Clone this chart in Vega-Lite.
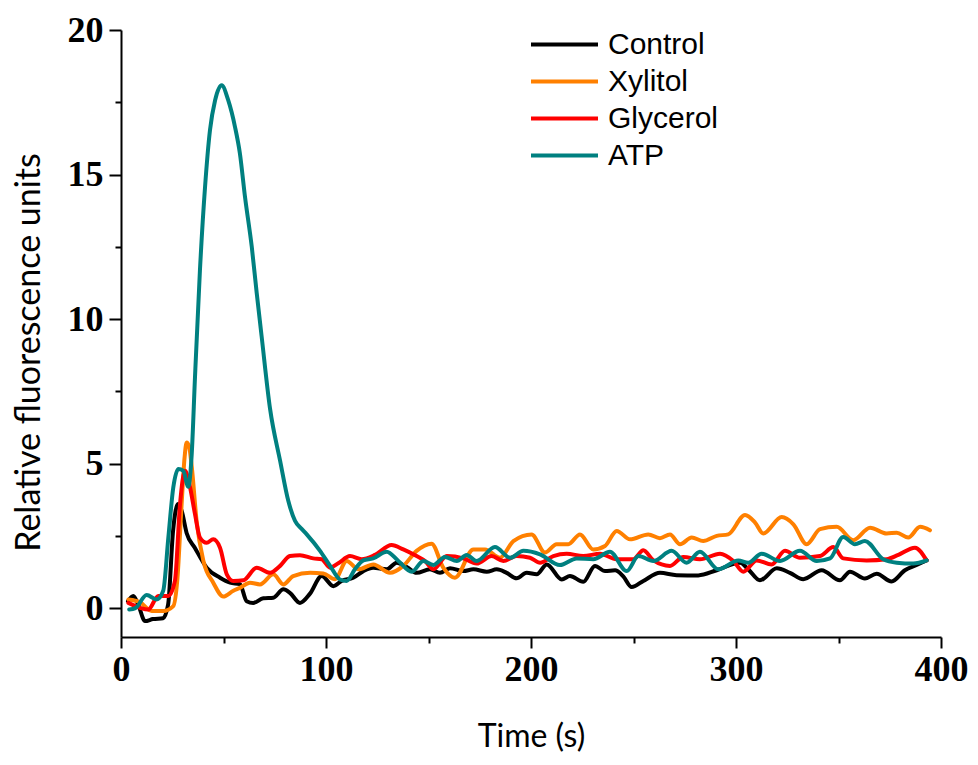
{
  "$schema": "https://vega.github.io/schema/vega-lite/v6.json",
  "width": 820,
  "height": 607,
  "autosize": {"type": "none"},
  "padding": {"left": 121, "top": 30, "right": 37, "bottom": 128},
  "background": "white",
  "config": {
    "view": {"stroke": null},
    "axis": {"grid": false, "domainColor": "black", "domainWidth": 2, "tickColor": "black", "tickWidth": 2, "labelColor": "black", "titleColor": "black"}
  },
  "datasets": {
    "raw": [
      {"s":"Control","t":3.4,"v":0.24},{"s":"Control","t":6,"v":0.42},{"s":"Control","t":8.5,"v":0.1},{"s":"Control","t":11.7,"v":-0.45},{"s":"Control","t":15.6,"v":-0.38},{"s":"Control","t":20.5,"v":-0.35},{"s":"Control","t":23,"v":0.13},{"s":"Control","t":25.4,"v":2.67},{"s":"Control","t":27.8,"v":3.6},{"s":"Control","t":29.6,"v":3.36},{"s":"Control","t":32,"v":2.6},{"s":"Control","t":36,"v":2.09},{"s":"Control","t":41.8,"v":1.4},{"s":"Control","t":48.3,"v":1.05},{"s":"Control","t":53.2,"v":0.88},{"s":"Control","t":58,"v":0.83},{"s":"Control","t":61.3,"v":0.24},{"s":"Control","t":64.5,"v":0.18},{"s":"Control","t":69.4,"v":0.34},{"s":"Control","t":74.3,"v":0.36},{"s":"Control","t":79.2,"v":0.65},{"s":"Control","t":82.4,"v":0.53},{"s":"Control","t":87.3,"v":0.18},{"s":"Control","t":92.2,"v":0.5},{"s":"Control","t":97.9,"v":1.11},{"s":"Control","t":103.6,"v":0.76},{"s":"Control","t":107.6,"v":0.94},{"s":"Control","t":113.3,"v":1.05},{"s":"Control","t":118.2,"v":1.28},{"s":"Control","t":123,"v":1.4},{"s":"Control","t":129.6,"v":1.34},{"s":"Control","t":134.5,"v":1.57},{"s":"Control","t":139.4,"v":1.42},{"s":"Control","t":144.2,"v":1.22},{"s":"Control","t":150.7,"v":1.34},{"s":"Control","t":155.6,"v":1.22},{"s":"Control","t":160.5,"v":1.38},{"s":"Control","t":167,"v":1.28},{"s":"Control","t":171.9,"v":1.34},{"s":"Control","t":178.4,"v":1.26},{"s":"Control","t":183.3,"v":1.34},{"s":"Control","t":188.1,"v":1.22},{"s":"Control","t":193,"v":1.03},{"s":"Control","t":197.9,"v":1.22},{"s":"Control","t":202.8,"v":1.17},{"s":"Control","t":207.7,"v":1.51},{"s":"Control","t":215,"v":0.99},{"s":"Control","t":219,"v":1.11},{"s":"Control","t":225.5,"v":0.91},{"s":"Control","t":231.2,"v":1.46},{"s":"Control","t":236.1,"v":1.28},{"s":"Control","t":241,"v":1.31},{"s":"Control","t":245,"v":1.1},{"s":"Control","t":249.1,"v":0.73},{"s":"Control","t":254.8,"v":0.94},{"s":"Control","t":262.9,"v":1.22},{"s":"Control","t":271,"v":1.14},{"s":"Control","t":281.6,"v":1.13},{"s":"Control","t":290.6,"v":1.31},{"s":"Control","t":302,"v":1.57},{"s":"Control","t":306,"v":1.34},{"s":"Control","t":311.7,"v":0.96},{"s":"Control","t":319.9,"v":1.38},{"s":"Control","t":326.3,"v":1.22},{"s":"Control","t":332.8,"v":1.0},{"s":"Control","t":341.8,"v":1.31},{"s":"Control","t":350.7,"v":0.96},{"s":"Control","t":355.6,"v":1.26},{"s":"Control","t":362.9,"v":1.02},{"s":"Control","t":368.6,"v":1.19},{"s":"Control","t":375.9,"v":0.92},{"s":"Control","t":382.4,"v":1.31},{"s":"Control","t":388.1,"v":1.49},{"s":"Control","t":393,"v":1.65},
      {"s":"Xylitol","t":3.6,"v":0.3},{"s":"Xylitol","t":9.3,"v":0.2},{"s":"Xylitol","t":15,"v":-0.1},{"s":"Xylitol","t":20.6,"v":-0.1},{"s":"Xylitol","t":25.5,"v":0.07},{"s":"Xylitol","t":27.5,"v":1.0},{"s":"Xylitol","t":29.5,"v":3.5},{"s":"Xylitol","t":31,"v":5.2},{"s":"Xylitol","t":32,"v":5.73},{"s":"Xylitol","t":33.2,"v":5.6},{"s":"Xylitol","t":34.5,"v":4.9},{"s":"Xylitol","t":36.9,"v":3.0},{"s":"Xylitol","t":40.2,"v":1.63},{"s":"Xylitol","t":45,"v":0.88},{"s":"Xylitol","t":49.9,"v":0.4},{"s":"Xylitol","t":54.8,"v":0.6},{"s":"Xylitol","t":58,"v":0.7},{"s":"Xylitol","t":62.9,"v":0.88},{"s":"Xylitol","t":67.8,"v":0.82},{"s":"Xylitol","t":74.3,"v":1.17},{"s":"Xylitol","t":79.2,"v":0.82},{"s":"Xylitol","t":84,"v":1.11},{"s":"Xylitol","t":92.2,"v":1.22},{"s":"Xylitol","t":98.7,"v":1.2},{"s":"Xylitol","t":104.4,"v":1.0},{"s":"Xylitol","t":110.1,"v":1.63},{"s":"Xylitol","t":115.8,"v":1.34},{"s":"Xylitol","t":123.1,"v":1.51},{"s":"Xylitol","t":131.2,"v":1.22},{"s":"Xylitol","t":137.7,"v":1.46},{"s":"Xylitol","t":144.2,"v":1.98},{"s":"Xylitol","t":151.5,"v":2.23},{"s":"Xylitol","t":157.2,"v":1.4},{"s":"Xylitol","t":162.9,"v":1.05},{"s":"Xylitol","t":171.9,"v":2.03},{"s":"Xylitol","t":177.6,"v":2.03},{"s":"Xylitol","t":184.9,"v":1.74},{"s":"Xylitol","t":191.4,"v":2.32},{"s":"Xylitol","t":200.3,"v":2.55},{"s":"Xylitol","t":206.8,"v":1.92},{"s":"Xylitol","t":212.5,"v":2.21},{"s":"Xylitol","t":218.2,"v":2.21},{"s":"Xylitol","t":223.9,"v":2.55},{"s":"Xylitol","t":230.4,"v":2.03},{"s":"Xylitol","t":236.1,"v":2.15},{"s":"Xylitol","t":241.8,"v":2.67},{"s":"Xylitol","t":248.3,"v":2.38},{"s":"Xylitol","t":257.2,"v":2.55},{"s":"Xylitol","t":262.9,"v":2.42},{"s":"Xylitol","t":267.8,"v":2.55},{"s":"Xylitol","t":272.7,"v":2.21},{"s":"Xylitol","t":278.4,"v":2.44},{"s":"Xylitol","t":284,"v":2.32},{"s":"Xylitol","t":290.6,"v":2.5},{"s":"Xylitol","t":296.2,"v":2.55},{"s":"Xylitol","t":304.4,"v":3.22},{"s":"Xylitol","t":309.3,"v":2.96},{"s":"Xylitol","t":313.3,"v":2.58},{"s":"Xylitol","t":322.3,"v":3.15},{"s":"Xylitol","t":328,"v":2.9},{"s":"Xylitol","t":334.5,"v":2.21},{"s":"Xylitol","t":341,"v":2.73},{"s":"Xylitol","t":349.1,"v":2.81},{"s":"Xylitol","t":357.2,"v":2.35},{"s":"Xylitol","t":365.4,"v":2.78},{"s":"Xylitol","t":373.5,"v":2.58},{"s":"Xylitol","t":378.4,"v":2.61},{"s":"Xylitol","t":384,"v":2.44},{"s":"Xylitol","t":389.8,"v":2.81},{"s":"Xylitol","t":394.6,"v":2.69},
      {"s":"Glycerol","t":3.6,"v":0.18},{"s":"Glycerol","t":9.3,"v":0.01},{"s":"Glycerol","t":13.3,"v":-0.05},{"s":"Glycerol","t":18.2,"v":0.42},{"s":"Glycerol","t":23.1,"v":0.42},{"s":"Glycerol","t":26.3,"v":0.94},{"s":"Glycerol","t":28.8,"v":3.6},{"s":"Glycerol","t":31.2,"v":4.75},{"s":"Glycerol","t":33.7,"v":4.17},{"s":"Glycerol","t":36.1,"v":3.25},{"s":"Glycerol","t":38.5,"v":2.44},{"s":"Glycerol","t":41.8,"v":2.26},{"s":"Glycerol","t":45,"v":2.38},{"s":"Glycerol","t":48.3,"v":2.09},{"s":"Glycerol","t":51.6,"v":1.17},{"s":"Glycerol","t":54.8,"v":0.94},{"s":"Glycerol","t":59.7,"v":0.96},{"s":"Glycerol","t":66.2,"v":1.4},{"s":"Glycerol","t":72.7,"v":1.22},{"s":"Glycerol","t":77.6,"v":1.46},{"s":"Glycerol","t":82.4,"v":1.8},{"s":"Glycerol","t":87.3,"v":1.83},{"s":"Glycerol","t":93.8,"v":1.72},{"s":"Glycerol","t":97.9,"v":1.69},{"s":"Glycerol","t":102,"v":1.4},{"s":"Glycerol","t":106,"v":1.55},{"s":"Glycerol","t":111.7,"v":1.8},{"s":"Glycerol","t":117.4,"v":1.69},{"s":"Glycerol","t":123.9,"v":1.84},{"s":"Glycerol","t":132,"v":2.18},{"s":"Glycerol","t":137.7,"v":2.03},{"s":"Glycerol","t":144.2,"v":1.8},{"s":"Glycerol","t":148.3,"v":1.63},{"s":"Glycerol","t":152.4,"v":1.34},{"s":"Glycerol","t":158.9,"v":1.8},{"s":"Glycerol","t":167,"v":1.72},{"s":"Glycerol","t":173.5,"v":1.54},{"s":"Glycerol","t":180.8,"v":1.8},{"s":"Glycerol","t":186.5,"v":1.63},{"s":"Glycerol","t":193,"v":1.8},{"s":"Glycerol","t":199.5,"v":1.74},{"s":"Glycerol","t":204.4,"v":1.57},{"s":"Glycerol","t":210.9,"v":1.8},{"s":"Glycerol","t":217.4,"v":1.88},{"s":"Glycerol","t":225.5,"v":1.8},{"s":"Glycerol","t":233.7,"v":1.88},{"s":"Glycerol","t":241.8,"v":1.69},{"s":"Glycerol","t":249.9,"v":1.69},{"s":"Glycerol","t":254.8,"v":2.0},{"s":"Glycerol","t":259.7,"v":1.65},{"s":"Glycerol","t":267.8,"v":1.46},{"s":"Glycerol","t":274.3,"v":1.77},{"s":"Glycerol","t":282.4,"v":1.69},{"s":"Glycerol","t":292.2,"v":1.88},{"s":"Glycerol","t":298.7,"v":1.63},{"s":"Glycerol","t":303.6,"v":1.26},{"s":"Glycerol","t":310.1,"v":1.65},{"s":"Glycerol","t":317.4,"v":1.51},{"s":"Glycerol","t":323.9,"v":1.98},{"s":"Glycerol","t":331.2,"v":1.74},{"s":"Glycerol","t":341,"v":1.8},{"s":"Glycerol","t":347.5,"v":2.11},{"s":"Glycerol","t":352.3,"v":1.72},{"s":"Glycerol","t":363.7,"v":1.65},{"s":"Glycerol","t":373.5,"v":1.69},{"s":"Glycerol","t":379.2,"v":1.84},{"s":"Glycerol","t":387.3,"v":2.09},{"s":"Glycerol","t":393,"v":1.65},
      {"s":"ATP","t":4,"v":-0.05},{"s":"ATP","t":7,"v":0.0},{"s":"ATP","t":12.5,"v":0.45},{"s":"ATP","t":17.4,"v":0.3},{"s":"ATP","t":20.6,"v":0.6},{"s":"ATP","t":23.1,"v":2.44},{"s":"ATP","t":25.5,"v":4.17},{"s":"ATP","t":28,"v":4.81},{"s":"ATP","t":30.4,"v":4.75},{"s":"ATP","t":32.8,"v":4.2},{"s":"ATP","t":34.5,"v":5.33},{"s":"ATP","t":36.1,"v":8.0},{"s":"ATP","t":38.5,"v":11.68},{"s":"ATP","t":41,"v":14.57},{"s":"ATP","t":43.4,"v":16.53},{"s":"ATP","t":45.9,"v":17.57},{"s":"ATP","t":49.1,"v":18.09},{"s":"ATP","t":52.3,"v":17.57},{"s":"ATP","t":55.6,"v":16.65},{"s":"ATP","t":58,"v":15.73},{"s":"ATP","t":60.5,"v":14.22},{"s":"ATP","t":63.8,"v":12.49},{"s":"ATP","t":66.2,"v":10.9},{"s":"ATP","t":68.6,"v":9.4},{"s":"ATP","t":72.7,"v":6.9},{"s":"ATP","t":77.6,"v":5.1},{"s":"ATP","t":81.6,"v":3.71},{"s":"ATP","t":84.9,"v":3.02},{"s":"ATP","t":88,"v":2.75},{"s":"ATP","t":90.6,"v":2.55},{"s":"ATP","t":97.1,"v":1.98},{"s":"ATP","t":102,"v":1.46},{"s":"ATP","t":106.8,"v":0.99},{"s":"ATP","t":110.1,"v":0.94},{"s":"ATP","t":114.1,"v":1.34},{"s":"ATP","t":118.2,"v":1.65},{"s":"ATP","t":123,"v":1.72},{"s":"ATP","t":129.6,"v":1.95},{"s":"ATP","t":135.3,"v":1.63},{"s":"ATP","t":141.8,"v":1.26},{"s":"ATP","t":147.5,"v":1.63},{"s":"ATP","t":152.4,"v":1.49},{"s":"ATP","t":158,"v":1.77},{"s":"ATP","t":163.8,"v":1.63},{"s":"ATP","t":168.6,"v":1.84},{"s":"ATP","t":173.5,"v":1.63},{"s":"ATP","t":182.4,"v":2.11},{"s":"ATP","t":189.8,"v":1.74},{"s":"ATP","t":196.3,"v":1.98},{"s":"ATP","t":204.4,"v":1.86},{"s":"ATP","t":214.1,"v":1.49},{"s":"ATP","t":222.3,"v":1.72},{"s":"ATP","t":230.4,"v":1.69},{"s":"ATP","t":238.5,"v":1.95},{"s":"ATP","t":246.7,"v":1.28},{"s":"ATP","t":252.4,"v":1.8},{"s":"ATP","t":259.7,"v":1.63},{"s":"ATP","t":268.6,"v":1.98},{"s":"ATP","t":275.9,"v":1.57},{"s":"ATP","t":282.4,"v":1.95},{"s":"ATP","t":291.4,"v":1.34},{"s":"ATP","t":301.1,"v":1.65},{"s":"ATP","t":306,"v":1.57},{"s":"ATP","t":312.5,"v":1.88},{"s":"ATP","t":321.5,"v":1.63},{"s":"ATP","t":331.2,"v":1.98},{"s":"ATP","t":339.4,"v":1.63},{"s":"ATP","t":345.9,"v":1.72},{"s":"ATP","t":352.3,"v":2.46},{"s":"ATP","t":358,"v":2.21},{"s":"ATP","t":362.9,"v":2.32},{"s":"ATP","t":371.8,"v":1.69},{"s":"ATP","t":378.4,"v":1.57},{"s":"ATP","t":386.5,"v":1.54},{"s":"ATP","t":393,"v":1.65}
    ]
  },
  "data": {"name": "raw"},
  "mark": {"type": "line", "strokeWidth": 4, "interpolate": "monotone", "strokeJoin": "round", "strokeCap": "round"},
  "encoding": {
    "x": {
      "field": "t", "type": "quantitative",
      "scale": {"domain": [0, 400], "nice": false, "zero": false},
      "axis": {
        "values": [0, 50, 100, 150, 200, 250, 300, 350, 400],
        "labelExpr": "datum.value % 100 === 0 ? datum.label : ''",
        "tickSize": {"condition": {"test": "datum.value % 100 === 0", "value": 11}, "value": 6},
        "labelFont": "Liberation Serif", "labelFontWeight": "bold", "labelFontSize": 36,
        "labelPadding": 4, "labelFlush": false, "labelOverlap": false,
        "title": "Time (s)", "titleFont": "Lato", "titleFontWeight": "normal", "titleFontSize": 32, "titlePadding": 34
      }
    },
    "y": {
      "field": "v", "type": "quantitative",
      "scale": {"domain": [-1, 20], "nice": false, "zero": false},
      "axis": {
        "values": [0, 2.5, 5, 7.5, 10, 12.5, 15, 17.5, 20],
        "labelExpr": "datum.value % 5 === 0 ? datum.label : ''",
        "tickSize": {"condition": {"test": "datum.value % 5 === 0", "value": 12}, "value": 6},
        "labelFont": "Liberation Serif", "labelFontWeight": "bold", "labelFontSize": 36,
        "labelPadding": 6, "labelFlush": false, "labelOverlap": false,
        "title": "Relative fluorescence units", "titleFont": "Lato", "titleFontWeight": "normal", "titleFontSize": 34, "titlePadding": 21, "titleY": 322
      }
    },
    "color": {
      "field": "s", "type": "nominal",
      "scale": {"domain": ["Control", "Xylitol", "Glycerol", "ATP"], "range": ["#000000", "#ff8000", "#ff0000", "#008080"]},
      "legend": {
        "title": null, "orient": "none", "legendX": 408, "legendY": -3,
        "symbolType": "stroke", "symbolSize": 4489, "symbolStrokeWidth": 4,
        "clipHeight": 35, "rowPadding": 2, "labelOffset": 8,
        "labelFont": "Liberation Sans", "labelFontSize": 30, "labelColor": "black", "padding": 0
      }
    }
  }
}
